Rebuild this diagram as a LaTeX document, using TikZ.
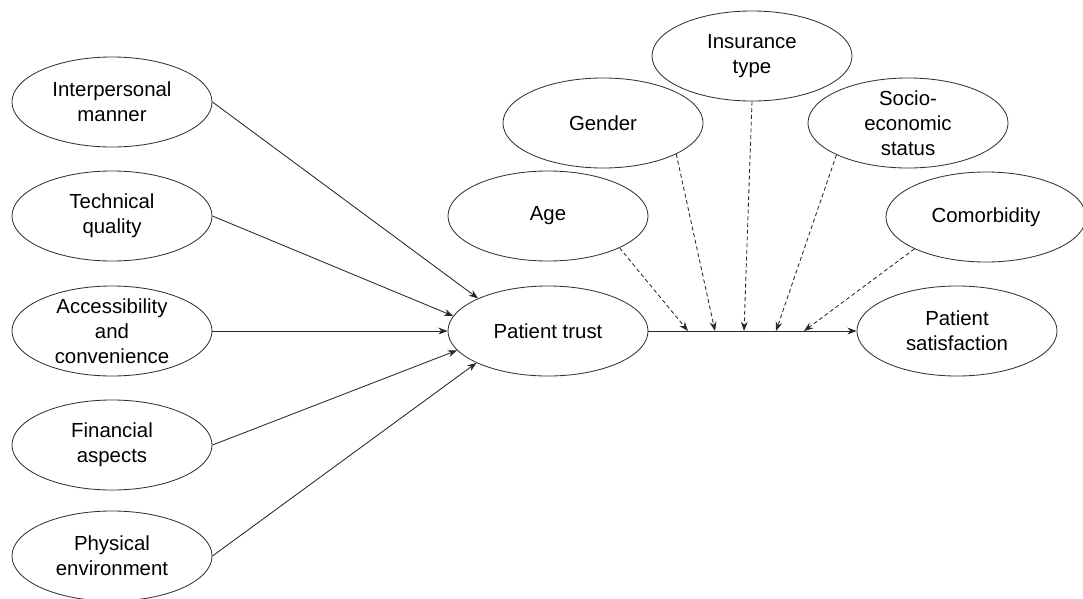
\documentclass[tikz,border=0pt]{standalone}
\usepackage{fontspec}
\setmainfont{Liberation Sans}
\usetikzlibrary{shapes.geometric,arrows.meta}
\begin{document}
\begin{tikzpicture}[x=0.025cm, y=-0.025cm, font=\fontsize{14.5pt}{17.8pt}\selectfont, line join=round, >={Stealth[length=2.3mm,width=1.7mm]}]
	\tikzset{
		oval/.style={ellipse, draw=black!80, line width=0.6pt, minimum width=5cm, minimum height=2.25cm, inner sep=-0.3cm, align=center},
		link/.style={->, line width=0.6pt, draw=black!85},
		moder/.style={link, dash pattern=on 2.8pt off 2pt}
	}
	\useasboundingbox (0,0) rectangle (1083,598); % khung hình
	% các yếu tố bên trái
	\node[oval] (inter) at (112,102) {Interpersonal\\manner};
	\node[oval] (tech) at (112,216) {Technical\\quality};
	\node[oval] (access) at (112,331) {Accessibility\\and\\convenience};
	\node[oval] (finan) at (112,445) {Financial\\aspects};
	\node[oval] (phys) at (112,556) {Physical\\environment};
	% trung tâm
	\node[oval] (trust) at (548,331) {Patient trust};
	\node[oval] (satis) at (957,331) {Patient\\satisfaction};
	% biến điều tiết
	\node[oval] (age) at (548,216) {Age};
	\node[oval] (gender) at (603,123) {Gender};
	\node[oval] (insur) at (752,56) {Insurance\\type};
	\node[oval] (socio) at (908,123) {Socio-\\economic\\status};
	\node[oval] (comor) at (986,217) {Comorbidity};
	\coordinate (mAge) at (688,331);
	\coordinate (mGender) at (715,331);
	\coordinate (mInsur) at (744,331);
	\coordinate (mSocio) at (776,331);
	\coordinate (mComor) at (804,331);
	\draw[link] (inter.east) -- (trust.155);
	\draw[link] (tech.east) -- (trust.171);
	\draw[link] (access.east) -- (trust.west);
	\draw[link] (finan.east) -- (trust.192);
	\draw[link] (phys.east) -- (trust.204);
	\draw[link] (trust.east) -- (satis.west);
	\draw[moder] (age.336) -- (mAge);
	\draw[moder] (gender.337) -- (mGender);
	\draw[moder] (insur.south) -- (mInsur);
	\draw[moder] (socio.204) -- (mSocio);
	\draw[moder] (comor.204) -- (mComor);
\end{tikzpicture}
\end{document}
